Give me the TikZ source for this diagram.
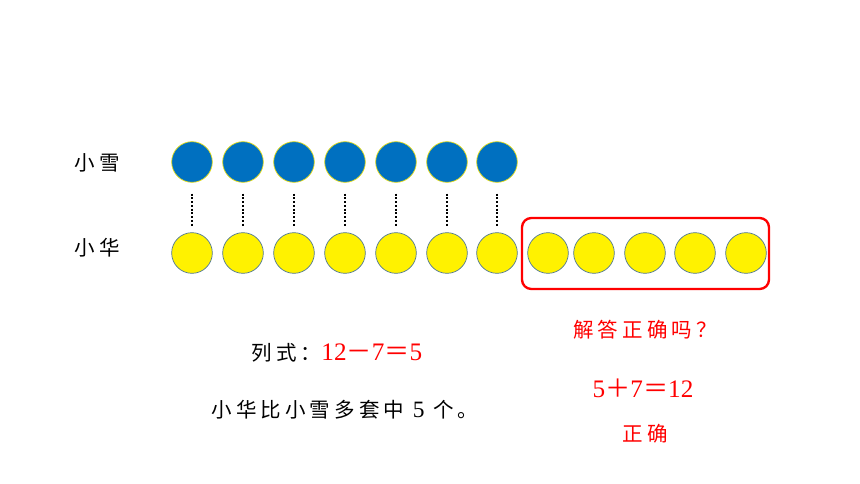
\documentclass[tikz,border=0pt]{standalone}
\usepackage{fontspec}
\setmainfont{Liberation Serif}
\newfontfamily\cjk[LetterSpace=20]{Noto Sans CJK SC}
\usetikzlibrary{positioning}

\begin{document}
\begin{tikzpicture}[
    x=0.03cm, y=-0.03cm,
    xue/.style={circle, draw=yellow!90!black, line width=0.6pt, fill={rgb,255:red,0;green,112;blue,192}, minimum size=1.22cm, inner sep=0pt},
    hua/.style={circle, draw={rgb,255:red,80;green,120;blue,150}, line width=0.6pt, fill=yellow, minimum size=1.22cm, inner sep=0pt},
    pairline/.style={line width=1.6pt, dash pattern=on 1.6pt off 1.6pt, shorten <=0.33cm, shorten >=0.18cm},
    label/.style={font=\fontsize{17.5}{20}\selectfont, inner sep=0pt},
    answer/.style={label, text=red},
    num/.style={font=\fontsize{21.5}{24}\selectfont}
  ]

  % 背景
  \useasboundingbox (0,0) rectangle (860,484);

  % 名前
  \node[label] (nxue) at (97,163) {\cjk 小雪};
  \node[label] (nhua) at (97,248) {\cjk 小华};

  % 小雪の7個と小华の12個
  \foreach \i/\x in {1/192, 2/243, 3/294, 4/345, 5/396, 6/447, 7/497} {
    \node[xue] (x\i) at (\x,162) {};
    \node[hua] (h\i) at (\x,253) {};
    \draw[pairline] (x\i) -- (h\i);
  }
  \foreach \i/\x in {8/548, 9/594, 10/645, 11/695, 12/746}
    \node[hua] (h\i) at (\x,253) {};

  % 多い分の枠
  \draw[red, line width=2pt, rounded corners=8pt] (522,218) rectangle (769,289);

  % 式と答え
  \node[label] (expr) at (337,353) {\cjk 列式：\textcolor{red}{\normalfont\fontsize{21.5}{24}\selectfont 12{\cjk －}7{\cjk ＝}5}};
  \node[label] (ans) at (345,410) {\cjk 小华比小雪多套中 {\normalfont\fontsize{20}{24}\selectfont 5} 个。};

  % 検算
  \node[answer] (ask) at (645,330) {\cjk 解答正确吗？};
  \node[answer, num] (check) at (643,388) {5{\cjk ＋}7{\cjk ＝}12};
  \node[answer] (ok) at (645,434) {\cjk 正确};

\end{tikzpicture}
\end{document}
